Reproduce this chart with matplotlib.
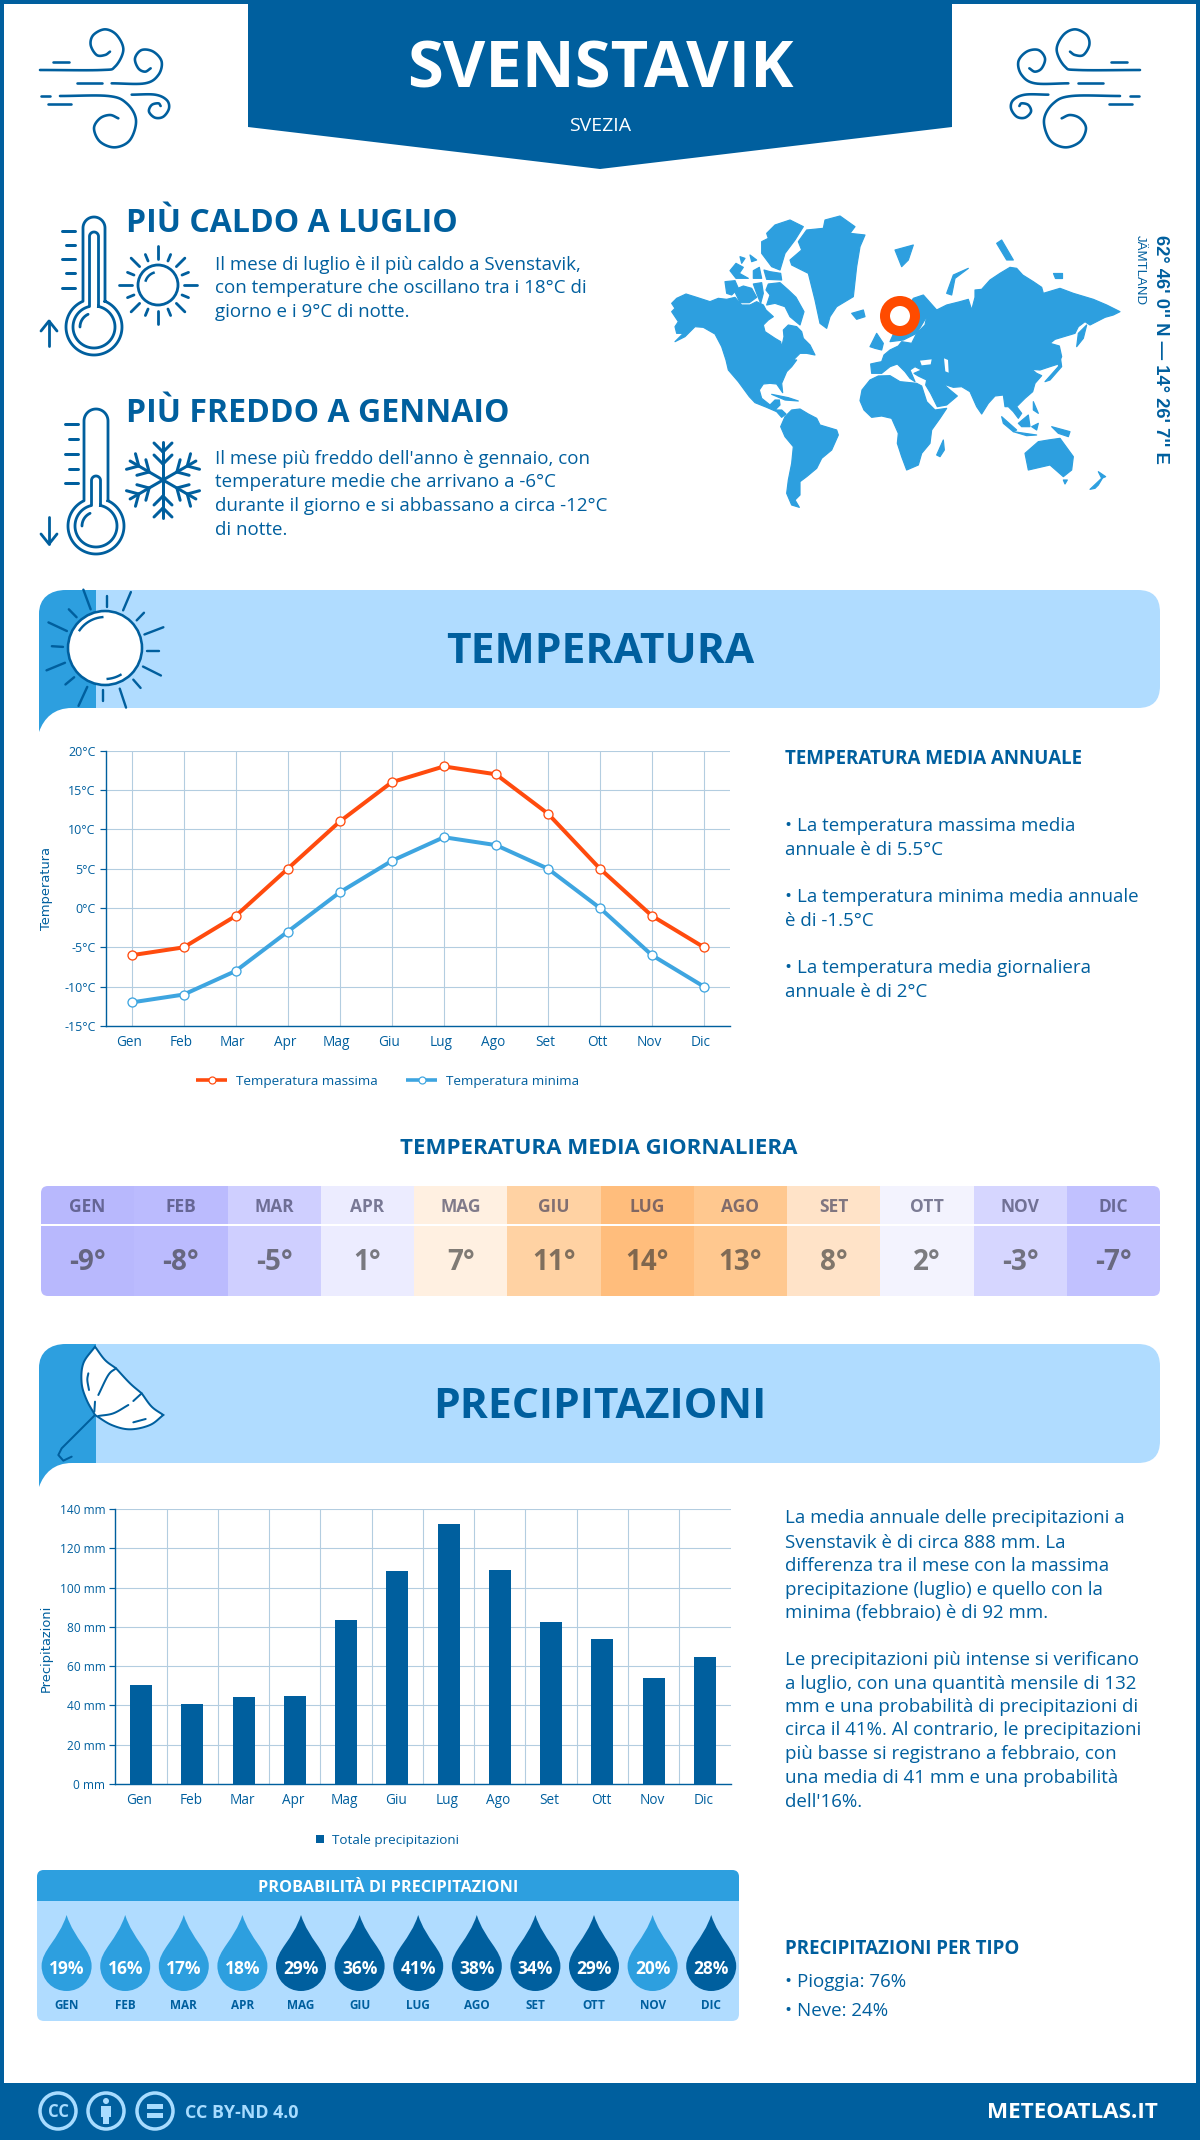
import numpy as np
import matplotlib
matplotlib.use("Agg")
from matplotlib import pyplot as plt
from matplotlib.patches import Circle, FancyBboxPatch, PathPatch, Polygon, Rectangle
from matplotlib.path import Path
from matplotlib.transforms import ScaledTranslation

# data
months = ["Gen", "Feb", "Mar", "Apr", "Mag", "Giu", "Lug", "Ago", "Set", "Ott", "Nov", "Dic"]
months_caps = [m.upper() for m in months]
temp_max = [-6, -5, -1, 5, 11, 16, 18, 17, 12, 5, -1, -5]
temp_min = [-12, -11, -8, -3, 2, 6, 9, 8, 5, 0, -6, -10]
temp_ticks = [-15, -10, -5, 0, 5, 10, 15, 20]
temp_mean = [-9, -8, -5, 1, 7, 11, 14, 13, 8, 2, -3, -7]
precip_mm = [50.6, 40.9, 44.5, 45, 83.7, 108.6, 132.5, 109.1, 82.6, 74, 54.1, 64.8]
precip_ticks = [0, 20, 40, 60, 80, 100, 120, 140]
precip_prob = [19, 16, 17, 18, 29, 36, 41, 38, 34, 29, 20, 28]

hot_text = ["Il mese di luglio è il più caldo a Svenstavik,",
            "con temperature che oscillano tra i 18°C di",
            "giorno e i 9°C di notte."]
cold_text = ["Il mese più freddo dell'anno è gennaio, con",
             "temperature medie che arrivano a -6°C",
             "durante il giorno e si abbassano a circa -12°C",
             "di notte."]
annual_text = ["• La temperatura massima media", "annuale è di 5.5°C",
               "• La temperatura minima media annuale", "è di -1.5°C",
               "• La temperatura media giornaliera", "annuale è di 2°C"]
rain_text = ["La media annuale delle precipitazioni a",
             "Svenstavik è di circa 888 mm. La",
             "differenza tra il mese con la massima",
             "precipitazione (luglio) e quello con la",
             "minima (febbraio) è di 92 mm."]
rain_text2 = ["Le precipitazioni più intense si verificano",
              "a luglio, con una quantità mensile di 132",
              "mm e una probabilità di precipitazioni di",
              "circa il 41%. Al contrario, le precipitazioni",
              "più basse si registrano a febbraio, con",
              "una media di 41 mm e una probabilità",
              "dell'16%."]

BLUE = "#005f9e"
SKY = "#2d9fdf"
PALE = "#b0dcff"
RED = "#ff4b0e"
GRID = "#b3cde0"
cell_colors = ["#b8b8fd", "#bbbbfe", "#cfcfff", "#ececff", "#fff0e1", "#ffd2a3",
               "#ffbd7c", "#ffc88f", "#ffe3c8", "#f3f3fe", "#d6d6ff", "#c1c1ff"]

plt.rcParams["font.family"] = ["Open Sans", "DejaVu Sans"]

W, H = 1200, 2140
fig = plt.figure(figsize=(W / 100, H / 100), dpi=100)
pg = fig.add_axes([0, 0, 1, 1])
pg.set_xlim(0, W)
pg.set_ylim(H, 0)
pg.axis("off")


def px(v):
    return v * 0.72


def axes_px(x0, y0, x1, y1):
    return fig.add_axes([x0 / W, 1 - y1 / H, (x1 - x0) / W, (y1 - y0) / H], facecolor="none")


def smooth(pts, n=10):
    # catmull-rom through the given points, only used for the icons
    p = np.array(pts, dtype=float)
    p = np.vstack([2 * p[0] - p[1], p, 2 * p[-1] - p[-2]])
    out = []
    for i in range(1, len(p) - 2):
        for t in np.linspace(0, 1, n, endpoint=False):
            out.append(0.5 * (2 * p[i] + (p[i + 1] - p[i - 1]) * t
                              + (2 * p[i - 1] - 5 * p[i] + 4 * p[i + 1] - p[i + 2]) * t ** 2
                              + (3 * p[i] - p[i - 1] - 3 * p[i + 1] + p[i + 2]) * t ** 3))
    out.append(p[-2])
    return np.array(out)


def stroke(pts, lw=2.5, color=BLUE, zorder=5, curve=False):
    a = smooth(pts) if curve else np.array(pts, dtype=float)
    pg.plot(a[:, 0], a[:, 1], color=color, lw=px(lw), solid_capstyle="round",
            solid_joinstyle="round", zorder=zorder)


def text(x, y, s, size, color=BLUE, weight="normal", ha="left", **kw):
    # va=center sits a bit high for this font, push it down with the size
    return pg.text(x, y + size * 0.12, s, fontsize=size, color=color, fontweight=weight, ha=ha,
                   va="center", **kw)


# page frame, header, footer
pg.add_patch(Rectangle((2, 2), W - 4, H - 4, fc="white", ec=BLUE, lw=px(4)))
pg.add_patch(Polygon([(248, 0), (952, 0), (952, 127), (600, 169), (248, 127)], fc=BLUE, ec="none"))
pg.add_patch(Rectangle((0, 2083), W, 57, fc=BLUE, ec="none"))
text(600, 65, "SVENSTAVIK", 47, "white", "bold", "center")
text(600, 124, "SVEZIA", 14, "white", ha="center")


def wind(fx):
    # fx maps the icon x position so that the right icon is a mirror of the left
    def z(pts):
        return [(fx(30 + a / 3), 20 + b / 3) for a, b in pts]
    curls = [[(30, 150), (215, 150), (255, 140), (280, 90), (260, 45), (225, 28), (190, 45),
              (182, 75), (200, 105), (225, 105), (240, 95)],
             [(245, 190), (345, 190), (385, 165), (395, 125), (370, 95), (335, 90), (315, 115),
              (325, 145), (345, 155), (362, 145)],
             [(90, 228), (235, 228), (290, 250), (318, 300), (300, 360), (255, 382), (210, 365),
              (192, 325), (210, 295), (240, 285), (265, 295)],
             [(305, 224), (375, 224), (410, 240), (417, 265), (400, 290), (375, 293), (357, 275),
              (365, 255), (385, 250), (392, 258)]]
    for c in curls:
        stroke(z(c), 2.6, curve=True)
    for d in [[(70, 125), (118, 125)], [(140, 190), (215, 190)], [(32, 228), (60, 228)],
              [(55, 252), (122, 252)]]:
        stroke(z(d), 2.6)


wind(lambda x: x)
wind(lambda x: 1180 - x)


def thermometer(cx, cy, top, w, R, wi, Ri, topi, lw=2.8):
    for ww, rr, tt in [(w, R, top), (wi, Ri, topi)]:
        ang = np.arcsin(ww / rr)
        th = np.linspace(ang, 2 * np.pi - ang, 80)
        bx, by = cx + rr * np.sin(th), cy - rr * np.cos(th)
        cap = np.linspace(0, np.pi, 30)
        x = np.r_[bx, cx - ww * np.cos(cap), bx[0]]
        y = np.r_[by, tt + ww - ww * np.sin(cap), by[0]]
        pg.plot(x, y, color=BLUE, lw=px(lw), zorder=5)
    th = np.radians(np.linspace(-90, -25, 20))
    pg.plot(cx + 14 * np.sin(th), cy - 14 * np.cos(th), color=BLUE, lw=px(lw), zorder=5,
            solid_capstyle="round")


def ticks_scale(x1, ys):
    for i, y in enumerate(ys):
        stroke([(x1 - (13 if i % 2 == 0 else 9), y), (x1, y)], 3)


thermometer(94, 327, 217, 11, 28, 4.5, 21, 232)
ticks_scale(75, [231, 245, 259, 273, 288])
stroke([(49, 346), (49, 321)], 2.8)
stroke([(41, 331), (49, 321), (57, 331)], 2.8)

# small sun
pg.add_patch(Circle((158, 285), 20, fc="none", ec=BLUE, lw=px(2.8), zorder=5))
for k in range(16):
    a = np.radians(k * 22.5)
    r0, r1 = (26, 39) if k % 2 == 0 else (26, 33)
    if k % 4 == 2:
        r1 = 38
    stroke([(158 + r0 * np.cos(a), 285 + r0 * np.sin(a)),
            (158 + r1 * np.cos(a), 285 + r1 * np.sin(a))], 2.8)
t = np.radians(np.linspace(200, 250, 12))
pg.plot(158 + 13 * np.cos(t), 285 + 13 * np.sin(t), color=BLUE, lw=px(2.5), zorder=5)

thermometer(96, 526, 409, 12, 28, 4.5, 21, 476)
ticks_scale(78, [424, 439, 454, 469, 483])
stroke([(49, 517), (49, 544)], 2.8)
stroke([(41, 534), (49, 544), (57, 534)], 2.8)

# snowflake
for k in range(6):
    a = np.radians(90 + k * 60)
    ux, uy = np.cos(a), np.sin(a)
    stroke([(163, 480), (163 + 38 * ux, 480 + 38 * uy)], 3)
    for r, b in [(16, 9), (28, 9)]:
        for s in (-1, 1):
            bx = r * ux + b * (ux + s * -uy)
            by = r * uy + b * (uy + s * ux)
            stroke([(163 + r * ux, 480 + r * uy), (163 + bx, 480 + by)], 3)


def band(y0, y1, title, size=30.6):
    pg.add_patch(FancyBboxPatch((70, y0), 1090, y1 - y0, boxstyle="round,pad=0,rounding_size=22",
                                fc=PALE, ec="none", zorder=1))
    v = [(39, y1 + 24), (39, y0 + 24), (39, y0 + 8), (50, y0), (66, y0), (96, y0), (96, y1),
         (72, y1), (54, y1), (44, y1 + 10), (39, y1 + 24), (39, y1 + 24)]
    c = [Path.MOVETO, Path.LINETO, Path.CURVE4, Path.CURVE4, Path.CURVE4, Path.LINETO, Path.LINETO,
         Path.LINETO, Path.CURVE4, Path.CURVE4, Path.CURVE4, Path.CLOSEPOLY]
    pg.add_patch(PathPatch(Path(v, c), fc=SKY, ec="none", zorder=2))
    text(600, (y0 + y1) / 2, title, size, BLUE, "bold", "center", zorder=6)


band(590, 708, "TEMPERATURA")
band(1344, 1463, "PRECIPITAZIONI")

# big sun on the temperature band
pg.add_patch(Circle((105, 648), 37, fc="white", ec=BLUE, lw=px(2.6), zorder=5))
for a, b, c, d in [(172, 28, 187, 85), (221, 45, 221, 78), (270, 35, 254, 88), (297, 95, 282, 117),
                   (337, 137, 298, 158), (327, 205, 303, 205), (332, 277, 295, 251),
                   (290, 313, 275, 289), (260, 370, 247, 315), (212, 352, 212, 320),
                   (180, 310, 162, 365), (153, 282, 135, 303), (134, 240, 96, 262),
                   (130, 194, 107, 192), (138, 148, 100, 123), (158, 108, 142, 85)]:
    stroke([(a / 2.063, 580 + b / 2.9), (c / 2.063, 580 + d / 2.9)], 2.4)
t = np.radians(np.linspace(215, 265, 12))
pg.plot(105 + 31 * np.cos(t), 648 + 31 * np.sin(t), color=BLUE, lw=px(2.4), zorder=6)
t = np.radians(np.linspace(60, 85, 12))
pg.plot(105 + 31 * np.cos(t), 648 + 31 * np.sin(t), color=BLUE, lw=px(2.4), zorder=6)

# umbrella on the rain band
def uz(pts):
    return [(30 + a / 3, 1340 + b / 3) for a, b in pts]


canopy = np.vstack([smooth(uz([(195, 20), (160, 70), (155, 130), (170, 180), (195, 225)])),
                    smooth(uz([(195, 225), (245, 255), (300, 268), (360, 255), (400, 225)])),
                    smooth(uz([(400, 225), (365, 200), (335, 160)])),
                    smooth(uz([(335, 160), (300, 130), (258, 85)])),
                    smooth(uz([(258, 85), (225, 60), (195, 20)]))])
pg.add_patch(Polygon(canopy, closed=True, fc="white", ec=BLUE, lw=px(2), zorder=5))
for rib in [[(258, 85), (235, 105), (205, 165)], [(195, 185), (193, 215)], [(335, 160), (310, 183)],
            [(295, 195), (250, 220), (205, 228)], [(310, 247), (347, 237)],
            [(175, 100), (172, 120), (177, 150)]]:
    stroke(uz(rib), 2, zorder=6, curve=True)
stroke(uz([(195, 225), (95, 325), (85, 345), (100, 362), (125, 350)]), 2, zorder=6)

# world map, rough outlines in a 3x crop of the map area
land = [
    # greenland, ellesmere and the arctic islands
    [(415, 95), (440, 60), (490, 55), (495, 30), (540, 18), (585, 50), (570, 70), (615, 75), (600, 110),
     (590, 170), (580, 260), (530, 290), (510, 320), (500, 355), (480, 340), (465, 270), (445, 190),
     (395, 165), (390, 150), (425, 120)],
    [(320, 70), (345, 45), (390, 30), (430, 50), (405, 90), (375, 130), (360, 180), (335, 170),
     (305, 130), (305, 95), (325, 85)],
    [(210, 182), (228, 160), (250, 172), (238, 190), (265, 205), (228, 205)],
    [(280, 182), (298, 172), (305, 205), (280, 205)],
    [(312, 180), (330, 185), (362, 190), (365, 210), (320, 208)],
    [(240, 140), (255, 145), (245, 160)],
    [(270, 135), (290, 150), (275, 155)],
    [(195, 215), (225, 212), (235, 235), (215, 255), (200, 250)],
    [(222, 240), (250, 228), (275, 235), (290, 262), (268, 278), (240, 278)],
    [(280, 222), (305, 218), (310, 250), (302, 280), (290, 250)],
    [(325, 222), (360, 218), (385, 240), (408, 262), (432, 305), (420, 345), (390, 320), (375, 290),
     (345, 280), (320, 285), (330, 255), (318, 240)],
    # north america
    [(35, 280), (50, 265), (78, 252), (110, 262), (150, 275), (175, 265), (200, 268), (225, 262),
     (245, 285), (270, 285), (290, 275), (310, 285), (318, 300), (340, 320), (325, 330), (310, 345),
     (315, 365), (345, 385), (362, 395), (365, 412), (372, 380), (370, 360), (385, 345), (410, 350),
     (425, 365), (430, 385), (450, 405), (465, 435), (440, 430), (420, 430), (400, 450), (410, 450),
     (395, 470), (380, 485), (365, 520), (368, 548), (350, 522), (330, 520), (310, 522), (298, 540),
     (305, 565), (330, 585), (345, 570), (358, 570), (360, 585), (345, 600), (365, 600), (378, 612),
     (365, 622), (350, 605), (320, 592), (285, 578), (268, 560), (235, 515), (205, 480), (198, 450),
     (185, 410), (165, 372), (130, 352), (105, 350), (75, 380), (45, 395), (70, 370), (50, 370),
     (45, 350), (55, 335), (35, 305), (45, 295)],
    [(335, 553), (385, 563), (415, 573), (375, 570)],
    # south america
    [(362, 650), (375, 620), (395, 600), (420, 597), (445, 612), (470, 625), (480, 645), (530, 660),
     (535, 675), (515, 720), (485, 745), (470, 775), (440, 800), (420, 815), (420, 855), (405, 870),
     (418, 892), (395, 885), (380, 850), (385, 810), (395, 760), (400, 710), (375, 680)],
    # africa
    [(600, 572), (606, 540), (630, 510), (655, 498), (690, 497), (720, 515), (770, 520), (785, 528),
     (800, 575), (825, 600), (860, 595), (840, 625), (815, 660), (810, 700), (785, 730), (775, 765),
     (740, 780), (725, 740), (712, 700), (715, 670), (695, 625), (665, 618), (635, 622), (612, 600)],
    [(830, 735), (850, 690), (853, 720), (840, 740)],
    # eurasia
    [(632, 462), (650, 458), (665, 455), (672, 435), (690, 420), (715, 408), (725, 395), (755, 400),
     (770, 370), (795, 345), (800, 320), (830, 300), (860, 285), (900, 275), (925, 268), (935, 300),
     (945, 262), (945, 240), (965, 238), (990, 210), (1020, 190), (1050, 172), (1070, 175), (1088, 195),
     (1120, 215), (1145, 232), (1150, 250), (1200, 235), (1240, 250), (1300, 268), (1340, 285),
     (1380, 305), (1360, 315), (1335, 322), (1290, 345), (1275, 335), (1255, 350), (1245, 370),
     (1185, 388), (1170, 400), (1198, 408), (1205, 440), (1195, 462), (1170, 470), (1140, 480),
     (1115, 478), (1130, 490), (1145, 497), (1125, 520), (1118, 545), (1095, 565), (1070, 590),
     (1085, 610), (1075, 625), (1060, 605), (1045, 590), (1035, 590), (1030, 555), (1005, 558),
     (985, 580), (965, 612), (950, 590), (930, 545), (905, 530), (880, 532), (850, 522), (870, 540),
     (892, 558), (860, 585), (832, 590), (812, 550), (797, 525), (800, 510), (775, 498), (762, 490),
     (785, 480), (765, 470), (750, 480), (765, 515), (750, 505), (735, 485), (712, 462), (690, 470),
     (665, 490), (635, 490)],
    [(690, 395), (710, 350), (760, 265), (790, 255), (830, 300), (800, 320), (770, 370), (730, 390)],
    [(630, 410), (650, 370), (670, 400), (665, 420), (645, 415)],
    [(575, 310), (610, 300), (615, 320), (590, 328)],
    [(705, 120), (760, 105), (745, 150), (725, 170)],
    [(860, 250), (880, 195), (925, 175), (885, 205), (875, 255)],
    [(1010, 100), (1025, 90), (1060, 150), (1040, 150)],
    [(1180, 190), (1205, 190), (1205, 205), (1185, 205)],
    [(1250, 410), (1255, 370), (1280, 345), (1270, 385)],
    [(1155, 515), (1195, 470), (1200, 435), (1205, 470), (1170, 510)],
    # islands down to oceania
    [(1025, 620), (1070, 660), (1060, 665), (1030, 640)],
    [(1060, 665), (1130, 675), (1100, 677)],
    [(1075, 640), (1105, 615), (1110, 650), (1085, 650)],
    [(1115, 650), (1135, 640), (1130, 660)],
    [(1175, 650), (1230, 665), (1225, 680), (1195, 670)],
    [(1120, 575), (1135, 610), (1120, 600)],
    [(1095, 730), (1135, 695), (1165, 690), (1200, 685), (1240, 740), (1235, 780), (1210, 800),
     (1170, 765), (1105, 780)],
    [(1210, 810), (1222, 810), (1215, 822)],
    [(1290, 838), (1330, 800), (1315, 825), (1305, 835)],
    [(1315, 785), (1337, 800), (1325, 805)],
]
for poly in land:
    pg.add_patch(Polygon([(660 + a / 3, 210 + b / 3) for a, b in poly], fc=SKY, ec=SKY, lw=px(1.2),
                         joinstyle="round", zorder=2))
for poly in [[(780, 452), (815, 448), (812, 463), (785, 466)], [(852, 445), (864, 450), (866, 488), (856, 484)]]:
    pg.add_patch(Polygon([(660 + a / 3, 210 + b / 3) for a, b in poly], fc="white", ec="none", zorder=3))
pg.add_patch(Circle((900, 316), 15, fc="white", ec="#ff4b00", lw=px(10), zorder=4))
pg.text(1160, 235, "62° 46' 0'' N — 14° 26' 7'' E", fontsize=13.3, color=BLUE, fontweight="bold",
        rotation=-90, ha="center", va="top", family="Liberation Sans")
pg.text(1140, 235, "JÄMTLAND", fontsize=9.5, color=BLUE, rotation=-90, ha="center", va="top",
        family="Liberation Sans")

# top texts
text(126, 221, "PIÙ CALDO A LUGLIO", 23, weight="bold")
text(126, 411, "PIÙ FREDDO A GENNAIO", 23, weight="bold")
for y, s in zip([263, 286, 310], hot_text):
    text(215, y, s, 13.5)
for y, s in zip([457, 480, 504, 528], cold_text):
    text(215, y, s, 13.5)

# temperature chart
x = np.arange(12)
ax = axes_px(105.7, 750.7, 730, 1026)
ax.plot(x, temp_max, color=RED, lw=px(4), marker="o", ms=px(9), mfc="white", mec=RED, mew=px(1.3),
        clip_on=False, zorder=4)
ax.plot(x, temp_min, color="#3ea5e0", lw=px(4), marker="o", ms=px(9), mfc="white", mec="#3ea5e0",
        mew=px(1.3), clip_on=False, zorder=3)
ax.set_xlim(-0.5, 11.5)
ax.set_ylim(-15, 20)
ax.set_yticks(temp_ticks)
ax.set_yticklabels([f"{v}°C" for v in temp_ticks])
ax.set_xticks(x)
ax.set_xticklabels(months)
ax.grid(color=GRID, lw=px(1.1))
ax.set_axisbelow(True)

# rain chart
ax2 = axes_px(115.4, 1509, 730.5, 1784)
ax2.bar(x, precip_mm, width=0.43, color=BLUE, zorder=3)
ax2.set_xlim(-0.5, 11.5)
ax2.set_ylim(0, 140)
ax2.set_yticks(precip_ticks)
ax2.set_yticklabels([f"{v} mm" for v in precip_ticks])
ax2.set_xticks(x)
ax2.set_xticklabels(months)
ax2.set_xticks(x[:-1] + 0.5, minor=True)
ax2.grid(axis="y", color=GRID, lw=px(1.1))
ax2.grid(axis="x", which="minor", color=GRID, lw=px(1.1))
ax2.tick_params(axis="x", which="minor", length=0)
ax2.set_axisbelow(True)

for a, ysize, shift in [(ax, 9, -3), (ax2, 8.6, -1.5)]:
    for side in ("top", "right"):
        a.spines[side].set_visible(False)
    for side in ("left", "bottom"):
        a.spines[side].set_color(BLUE)
        a.spines[side].set_linewidth(px(1.4))
    a.tick_params(axis="y", colors=BLUE, labelsize=ysize, length=px(6), width=px(1.2), pad=px(4))
    a.tick_params(axis="x", colors=BLUE, labelsize=9.8, length=0, pad=px(9))
    for lab in a.get_xticklabels():
        lab.set_transform(lab.get_transform() + ScaledTranslation(shift / 100, 0, fig.dpi_scale_trans))

pg.text(46.5, 889, "Temperatura", fontsize=9.4, color=BLUE, rotation=90, ha="center", va="center",
        family="DejaVu Sans")
pg.text(46.5, 1648, "Precipitazioni", fontsize=9.4, color=BLUE, rotation=90, ha="center", va="center",
        family="DejaVu Sans")

# chart legends
for x0, c, s in [(196, RED, "Temperatura massima"), (406, "#3ea5e0", "Temperatura minima")]:
    pg.plot([x0, x0 + 31], [1080, 1080], color=c, lw=px(3.6), solid_capstyle="butt")
    pg.plot([x0 + 15.5], [1080], marker="o", ms=px(7), mfc="white", mec=c, mew=px(1.2))
    text(x0 + 40, 1080, s, 9.7)
pg.add_patch(Rectangle((316, 1835), 8, 8, fc=BLUE, ec="none"))
text(332, 1839, "Totale precipitazioni", 9.7)

# right column
text(785, 757, "TEMPERATURA MEDIA ANNUALE", 13.5, weight="bold")
for y, s in zip([824, 848, 895, 919, 966, 990], annual_text):
    text(785, y, s, 13.5)
for y, s in zip([1516, 1541, 1564, 1588, 1611], rain_text):
    text(785, y, s, 13.5)
for y, s in zip([1658, 1682, 1705, 1728, 1752, 1776, 1800], rain_text2):
    text(785, y, s, 13.5)
text(785, 1947, "PRECIPITAZIONI PER TIPO", 13.5, weight="bold")
text(785, 1980, "• Pioggia: 76%", 13.5)
text(785, 2009, "• Neve: 24%", 13.5)

# mean temperature strip
text(599, 1147, "TEMPERATURA MEDIA GIORNALIERA", 16, weight="bold", ha="center")
x0, x1, y0, y1 = 41, 1160, 1186, 1296
clip = FancyBboxPatch((x0, y0), x1 - x0, y1 - y0, boxstyle="round,pad=0,rounding_size=7", fc="none", ec="none")
pg.add_patch(clip)
cw = (x1 - x0) / 12
for i, (m, v) in enumerate(zip(months_caps, temp_mean)):
    cell = Rectangle((x0 + i * cw, y0), cw + 0.5, y1 - y0, fc=cell_colors[i], ec="none", zorder=2)
    pg.add_patch(cell)
    cell.set_clip_path(clip)
    cx = x0 + (i + 0.5) * cw
    text(cx, 1206, m, 12.5, "#333355", "bold", "center", alpha=0.62, zorder=3)
    text(cx, 1260, f"{v}°", 20, "#333333", "bold", "center", alpha=0.62, zorder=3)
pg.plot([x0, x1], [1225, 1225], color="white", lw=px(2), zorder=3)

# probability box with the drops
pg.add_patch(FancyBboxPatch((37, 1870), 702, 151, boxstyle="round,pad=0,rounding_size=7", fc=PALE, ec="none", zorder=1))
head = FancyBboxPatch((37, 1870), 702, 60, boxstyle="round,pad=0,rounding_size=7", fc=SKY, ec="none", zorder=2)
pg.add_patch(head)
head.set_clip_path(Rectangle((37, 1860), 702, 41, transform=pg.transData))
text(388, 1887, "PROBABILITÀ DI PRECIPITAZIONI", 11.7, "white", "bold", "center", zorder=3)
top, cy, bot, r = 1915, 1966, 1991, 25
for i, (m, v) in enumerate(zip(months_caps, precip_prob)):
    cx = 66.6 + i * 58.6
    verts = [(cx, top), (cx + 8, 1940), (cx + r, 1950), (cx + r, cy), (cx + r, 1980), (cx + 14, bot), (cx, bot),
             (cx - 14, bot), (cx - r, 1980), (cx - r, cy), (cx - r, 1950), (cx - 8, 1940), (cx, top)]
    codes = [Path.MOVETO] + [Path.CURVE4] * 12
    pg.add_patch(PathPatch(Path(verts, codes), fc=BLUE if v >= 28 else SKY, ec="none", zorder=2))
    text(cx, 1967, f"{v}%", 12.5, "white", "bold", "center", zorder=3)
    text(cx, 2004, m, 8.5, BLUE, "bold", "center", zorder=3)

# footer
ICON = "#a8dcff"
for cx in (58, 106, 155):
    pg.add_patch(Circle((cx, 2111), 18, fc="none", ec=ICON, lw=px(3.5), zorder=3))
text(58, 2111, "CC", 12, ICON, "bold", "center", zorder=4)
pg.add_patch(Circle((106, 2101), 3, fc=ICON, ec="none", zorder=4))
pg.add_patch(Rectangle((101, 2106), 10, 11, fc=ICON, ec="none", zorder=4))
pg.add_patch(Rectangle((103, 2117), 6, 7, fc=ICON, ec="none", zorder=4))
pg.add_patch(Rectangle((147, 2104), 16, 4.5, fc=ICON, ec="none", zorder=4))
pg.add_patch(Rectangle((147, 2113), 16, 4.5, fc=ICON, ec="none", zorder=4))
text(185, 2111, "CC BY-ND 4.0", 12.9, ICON, "bold", zorder=4)
text(1158, 2111, "METEOATLAS.IT", 16.1, "white", "bold", "right", zorder=4)

fig.savefig("out.png", dpi=100)
